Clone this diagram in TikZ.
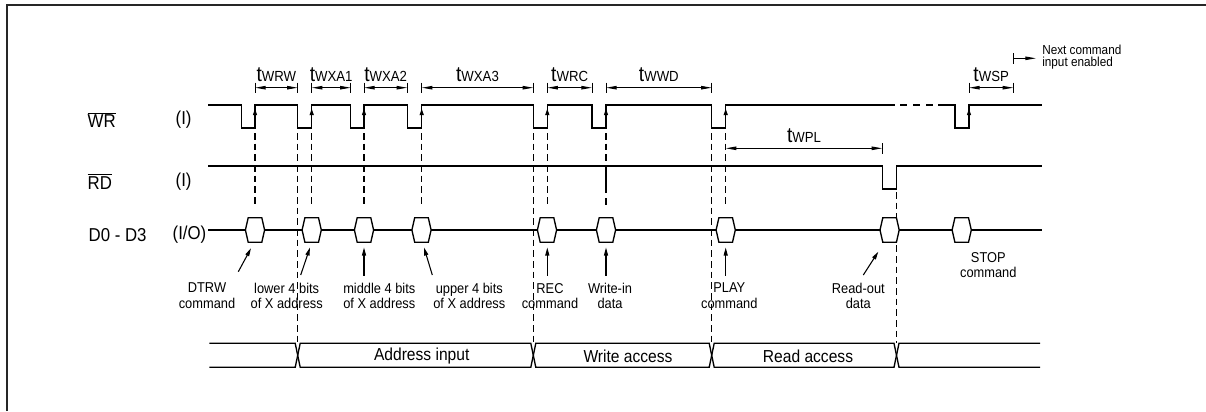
\documentclass[tikz,border=0pt]{standalone}
\usepackage{fontspec}
\setmainfont{Liberation Sans}[FakeStretch=0.9]
\usetikzlibrary{arrows.meta}
\newcommand\tlab[1]{{\fontsize{16}{16}\selectfont t}{\fontsize{11}{11}\selectfont #1}}
\begin{document}
\begin{tikzpicture}[x=0.75pt,y=-0.75pt,
  sig/.style={line width=1pt},
  dsh/.style={line width=0.8pt,dash pattern=on 5pt off 3pt},
  uparr/.style={line width=1pt,-{Triangle[length=5pt,width=3pt]}},
  lblarr/.style={line width=0.8pt,-{Triangle[length=6pt,width=3pt]}},
  timarr/.style={line width=0.7pt,{Triangle[length=8pt,width=2.6pt]}-{Triangle[length=8pt,width=2.6pt]}},
  tick/.style={line width=0.7pt},
  siglab/.style={font=\fontsize{14}{14}\selectfont,anchor=west},
  small/.style={font=\fontsize{10.7}{11.8}\selectfont,align=center},
  buslab/.style={font=\fontsize{13}{13}\selectfont},
  tlabel/.style={anchor=base,inner sep=0pt}]
\useasboundingbox (0,0) rectangle (1206,411);
% frame
\draw[line width=1.5pt,black!85] (7,411) -- (7,5) -- (1206,5);
% signal labels
\node[siglab] (wrn) at (83,120) {$\overline{\mbox{WR}}$};
\node[siglab] (wri) at (171,120) {(I)};
\node[siglab] (rdn) at (83,181.7) {$\overline{\mbox{RD}}$};
\node[siglab] (rdi) at (171,181.7) {(I)};
\node[siglab] (dn) at (84,235) {D0 - D3};
\node[siglab] (dio) at (168,235) {(I/O)};
% dashed guide lines
\foreach \x in {255,311.7,364,421.7,547.3,725.7}
  \draw[dsh] (\x,133) -- (\x,207);
\draw[dsh] (606,133) -- (606,166);
\draw[line width=0.8pt] (606,166) -- (606,193);
\draw[dsh] (606,198) -- (606,207);
\foreach \x in {297.7,533.3,711.7}
  \draw[dsh] (\x,133) -- (\x,343);
\draw[dsh] (896.7,192) -- (896.7,343);
% WR waveform
\draw[sig] (208,105) -- (241.7,105) -- (241.7,128) -- (255,128) -- (255,105)
  -- (297.7,105) -- (297.7,128) -- (311.7,128) -- (311.7,105)
  -- (350.7,105) -- (350.7,128) -- (364,128) -- (364,105)
  -- (407.3,105) -- (407.3,128) -- (421.7,128) -- (421.7,105)
  -- (533.3,105) -- (533.3,128) -- (547.3,128) -- (547.3,105)
  -- (592,105) -- (592,128) -- (606,128) -- (606,105)
  -- (711.7,105) -- (711.7,128) -- (725.7,128) -- (725.7,105)
  -- (895,105);
\draw[sig,dash pattern=on 5pt off 4.75pt] (900,105) -- (933.3,105);
\draw[sig] (938.3,105) -- (955,105) -- (955,128) -- (969,128) -- (969,105) -- (1041.7,105);
\foreach \x in {255,311.7,364,421.7,547.3,606,725.7,969}
  \draw[uparr] (\x,127) -- (\x,108.5);
% RD waveform
\draw[sig] (208,166) -- (882.3,166) -- (882.3,189) -- (896.7,189) -- (896.7,166) -- (1041.7,166);
% D0-D3 bus
\draw[sig] (208,230) -- (1041.7,230);
\foreach \c in {255,311.7,364,421.5,547,606,725.7,889.6,961.7}
  \draw[sig,fill=white] ({\c-9.6},230) -- ({\c-6.8},217.7) -- ({\c+6.8},217.7)
    -- ({\c+9.6},230) -- ({\c+6.8},242.3) -- ({\c-6.8},242.3) -- cycle;
% timing markers
\foreach \a/\b/\n in {255/297.7/WRW,311.7/350.7/WXA1,364/407.3/WXA2,421.7/533.3/WXA3,547.3/592/WRC,606/711.7/WWD,969/1013.3/WSP}{
  \draw[tick] (\a,82.5) -- (\a,93);
  \draw[tick] (\b,82.5) -- (\b,93);
  \draw[timarr] (\a,87.7) -- (\b,87.7);
  \node[tlabel] (t\n) at ({(\a+\b)/2},81.5) {\tlab{\n}};
}
\draw[tick] (882.3,143) -- (882.3,153.5);
\draw[timarr] (725.7,148.3) -- (882.3,148.3);
\node[tlabel] (tWPL) at (804,142.5) {\tlab{WPL}};
% next command enabled
\draw[tick] (1013.3,53) -- (1013.3,63.5);
\coordinate (nc) at (1036,58.3);
\draw[line width=0.7pt,-{Triangle[length=8pt,width=2.6pt]}] (1013.3,58.3) -- (nc);
\node[anchor=west,align=left,font=\fontsize{9.8}{9.5}\selectfont,inner sep=0pt] (next) at (1042,57) {Next command\\input enabled};
% labels under D bus
\node[small] (l1) at (207,296) {DTRW\\command};
\node[small] (l2) at (286.7,296) {lower 4 bits\\of X address};
\node[small] (l3) at (379.3,296) {middle 4 bits\\of X address};
\node[small] (l4) at (469.3,296) {upper 4 bits\\of X address};
\node[small] (l5) at (550,296) {REC\\command};
\node[small] (l6) at (610,296) {Write-in\\data};
\node[small] (l7) at (729.3,296) {PLAY\\command};
\node[small] (l8) at (858.3,296) {Read-out\\data};
\node[small] (l9) at (988.3,265) {STOP\\command};
\draw[lblarr] (238.3,271.7) -- (251,248.3);
\draw[lblarr] (300.7,275) -- (310,247.5);
\draw[lblarr] (364,275.5) -- (364,247.5);
\draw[lblarr] (432.3,275) -- (424,247.5);
\draw[lblarr] (547.3,275.5) -- (547.3,247.5);
\draw[lblarr] (606,275.5) -- (606,247.5);
\draw[lblarr] (725.7,275.5) -- (725.7,247.5);
\draw[lblarr] (863.3,275) -- (878.3,251.7);
% bottom bus bar
\draw[sig] (209.3,343.3) -- (295.2,343.3) -- (300.2,367.3) -- (530.8,367.3) -- (535.8,343.3)
  -- (709.2,343.3) -- (714.2,367.3) -- (894,367.3) -- (899,343.3) -- (1040,343.3);
\draw[sig] (209.3,367.3) -- (295.2,367.3) -- (300.2,343.3) -- (530.8,343.3) -- (535.8,367.3)
  -- (709.2,367.3) -- (714.2,343.3) -- (894,343.3) -- (899,367.3) -- (1040,367.3);
\node[buslab] (b1) at (421.7,356) {Address input};
\node[buslab] (b2) at (628,356) {Write access};
\node[buslab] (b3) at (808,356) {Read access};
\end{tikzpicture}
\end{document}
